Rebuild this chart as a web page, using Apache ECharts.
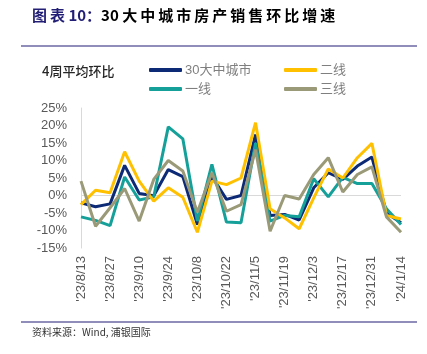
<!DOCTYPE html>
<html>
<head>
<meta charset="utf-8">
<script src="https://cdn.jsdelivr.net/npm/echarts@6/dist/echarts.min.js"></script>
<style>
  html, body { margin: 0; padding: 0; background: #fff; }
  #chart { width: 427px; height: 354px; }
</style>
</head>
<body>
<div id="chart"></div>
<script>
// 周度日期
var weeks = ["'23/8/13", "'23/8/20", "'23/8/27", "'23/9/3", "'23/9/10", "'23/9/17", "'23/9/24",
  "'23/10/1", "'23/10/8", "'23/10/15", "'23/10/22", "'23/10/29", "'23/11/5", "'23/11/12",
  "'23/11/19", "'23/11/26", "'23/12/3", "'23/12/10", "'23/12/17", "'23/12/24", "'23/12/31",
  "'24/1/7", "'24/1/14"];

// 4周平均环比 (%)
var city30 = [-2.1, -3.2, -2.4, 8.6, 0.6, -0.1, 7.4, 5.4, -8.3, 5.5, -1.1, 0.0, 17.4, -5.7, -5.4, -7.0, 2.2, 6.5, 4.6, 8.4, 11.0, -5.0, -7.8];
var tier1 = [-6.1, -7.1, -8.6, 5.3, -1.3, -0.4, 19.6, 16.2, -7.3, 8.9, -7.6, -7.8, 15.0, -7.3, -5.7, -6.1, 4.8, -0.4, 5.2, 3.4, 3.4, -3.8, -8.3];
var tier2 = [-2.6, 1.5, 0.8, 12.5, 4.1, -1.6, 2.2, -0.5, -10.5, 4.1, 3.1, 5.0, 20.8, -3.8, -6.4, -9.5, -0.7, 7.6, 5.0, 10.8, 14.9, -5.7, -6.7];
var tier3 = [4.1, -8.8, -3.5, 2.0, -7.3, 4.6, 10.0, 7.0, -4.8, 6.5, -4.5, -2.6, 13.1, -10.2, 0.0, -1.0, 6.0, 10.8, 1.0, 6.0, 8.2, -6.1, -10.5];

var chart = echarts.init(document.getElementById('chart'));

var txtFont = '"Liberation Sans", "Noto Sans CJK SC", sans-serif';
var cjkFont = '"Noto Sans CJK SC", sans-serif';

// 字间距：用细空格把字拉开一点
function spaced(s) {
  return s.split('').join('\u2009');
}

function lineSeries(name, data, color) {
  return {
    name: name,
    type: 'line',
    data: data,
    symbol: 'none',
    lineStyle: { width: 3, color: color },
    itemStyle: { color: color },
    z: 3
  };
}

var legendBase = {
  orient: 'vertical',
  top: 58,
  itemWidth: 33,
  itemHeight: 4,
  itemGap: 5,
  icon: 'roundRect',
  textStyle: { color: '#7f7f7f', fontSize: 13, fontFamily: txtFont, lineHeight: 14, padding: [0, 0, 0, -2] }
};

var option = {
  animation: false,
  grid: { left: 81, right: 26, top: 108, bottom: 106 },
  legend: [
    Object.assign({ left: 144, data: ['30大中城市', '一线'] }, legendBase),
    Object.assign({ left: 279, data: ['二线', '三线'] }, legendBase)
  ],
  xAxis: {
    type: 'category',
    data: weeks,
    boundaryGap: false,
    axisLine: { show: false },
    axisTick: { show: false },
    axisLabel: {
      interval: 1,
      rotate: 90,
      margin: 8,
      color: '#595959',
      fontSize: 13,
      fontFamily: txtFont
    }
  },
  yAxis: {
    type: 'value',
    min: -15,
    max: 25,
    interval: 5,
    axisLine: { show: true, lineStyle: { color: '#d9d9d9', width: 1 } },
    axisTick: { show: false },
    splitLine: { show: false },
    axisLabel: {
      formatter: '{value}%',
      margin: 14,
      color: '#595959',
      fontSize: 13,
      fontFamily: txtFont
    }
  },
  series: [
    Object.assign(lineSeries('30大中城市', city30, '#0c2a75'), {
      markLine: {
        silent: true,
        symbol: 'none',
        label: { show: false },
        lineStyle: { color: '#d9d9d9', width: 1, type: 'solid' },
        data: [{ yAxis: 0 }],
        z: 1
      }
    }),
    lineSeries('一线', tier1, '#16a09a'),
    lineSeries('二线', tier2, '#ffc000'),
    lineSeries('三线', tier3, '#9a9a78')
  ],
  graphic: [
    {
      type: 'text',
      left: 32,
      top: 8,
      style: {
        text: '{a|' + spaced('图表') + ' 10：}{b|30 ' + spaced('大中城市房产销售环比增速') + '}',
        rich: {
          a: { fontSize: 15, fontWeight: 'bold', fill: '#221e75', fontFamily: cjkFont },
          b: { fontSize: 15, fontWeight: 'bold', fill: '#000', fontFamily: cjkFont }
        }
      }
    },
    { type: 'line', shape: { x1: 21, y1: 46, x2: 417, y2: 46 }, style: { stroke: '#6c67a3', lineWidth: 1.5 } },
    { type: 'line', shape: { x1: 21, y1: 322, x2: 417, y2: 322 }, style: { stroke: '#6c67a3', lineWidth: 1.5 } },
    {
      type: 'text',
      left: 42,
      top: 65,
      style: { text: '4周平均环比', fontSize: 13, fontFamily: cjkFont, fill: '#262626', fontWeight: 500 }
    },
    {
      type: 'text',
      left: 32,
      top: 327,
      style: { text: '资料来源：Wind, 浦银国际', fontSize: 10, fontFamily: cjkFont, fill: '#333' }
    }
  ]
};

chart.setOption(option);
</script>
</body>
</html>
